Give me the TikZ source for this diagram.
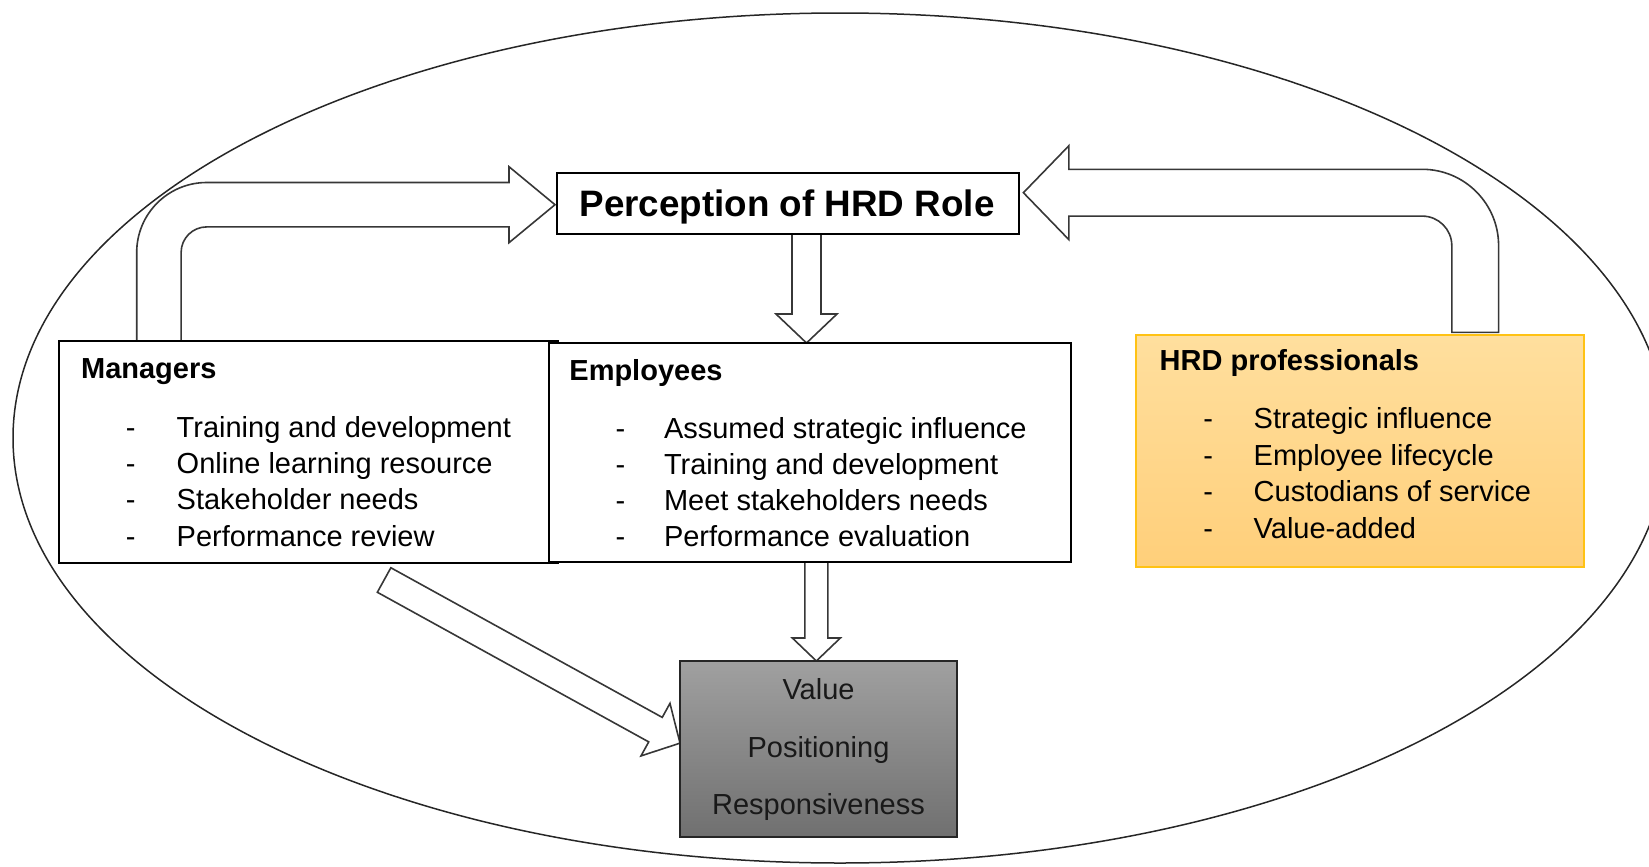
\documentclass[tikz,border=0pt]{standalone}
\usepackage{fontspec}
\setmainfont{Liberation Sans}
\usetikzlibrary{calc}

\definecolor{hrdtop}{RGB}{255,223,158}
\definecolor{hrdbot}{RGB}{255,207,122}
\definecolor{hrdline}{RGB}{255,194,20}
\definecolor{valtop}{RGB}{160,160,160}
\definecolor{valbot}{RGB}{112,112,112}
\definecolor{arrowline}{RGB}{55,55,55}

\tikzset{
  box/.style={draw=black, line width=1pt, inner sep=0pt, outer sep=0pt, fill=white},
  blockarrow/.style={draw=arrowline, line width=0.8pt, fill=white, line join=miter},
  itemtxt/.style={anchor=base west, inner sep=0pt, font=\fontsize{14.5}{17}\selectfont},
  dashtxt/.style={anchor=base, inner sep=0pt, font=\fontsize{14.5}{17}\selectfont},
  headtxt/.style={anchor=base west, inner sep=0pt, font=\bfseries\fontsize{14.5}{17}\selectfont},
  valtxt/.style={anchor=base, inner sep=0pt, font=\fontsize{14.5}{17}\selectfont, text=black!90},
}

% straight block arrow: from, to, shaft half width, head half width, head length
\newcommand\straightblockarrow[5]{%
  \path[blockarrow] let \p1=(#1), \p2=(#2),
      \n1={atan2(\y2-\y1,\x2-\x1)},
      \p3=($(\p2)+(\n1+180:#5)$) in
    ($(\p1)+(\n1+90:#3)$) -- ($(\p3)+(\n1+90:#3)$) -- ($(\p3)+(\n1+90:#4)$) -- (\p2)
    -- ($(\p3)+(\n1-90:#4)$) -- ($(\p3)+(\n1-90:#3)$) -- ($(\p1)+(\n1-90:#3)$) -- cycle;}

\begin{document}
\begin{tikzpicture}[x=0.5pt, y=-0.5pt]
\useasboundingbox (0,0) rectangle (1649,867);
\clip (0,0) rectangle (1649,867);

% outer frame
\draw[line width=0.75pt, black!85] (840,438) ellipse [x radius=413.5pt, y radius=212.5pt];

% boxes (placed first so arrows can refer to them, drawn again on top)
\path (308.5,452) node[box, draw=none, fill=none, minimum width=249.5pt, minimum height=111pt] (mgr) {};
\path (810,452.5) node[box, draw=none, fill=none, minimum width=261pt, minimum height=109.5pt] (emp) {};
\path (1360,451) node[box, draw=none, fill=none, minimum width=224pt, minimum height=116pt] (hrd) {};
\path (788,203.5) node[box, draw=none, fill=none, minimum width=231pt, minimum height=30.5pt] (perc) {};
\path (818.35,748.85) node[box, draw=none, fill=none, minimum width=138.35pt, minimum height=87.85pt] (val) {};

% bent arrow: managers -> perception
\coordinate (lbase) at ([xshift=49.95pt, yshift=-0.5pt]mgr.north west);
\coordinate (ltip) at ([xshift=-1pt, yshift=-0.6pt]perc.west);
\path[blockarrow] let \p1=(lbase), \p2=(ltip) in
  (\x1-11.1pt,\y1) -- (\x1-11.1pt,\y2-23.9pt) arc[start angle=180, end angle=90, radius=35pt]
  -- (\x2-23pt,\y2+11.1pt) -- (\x2-23pt,\y2+19pt) -- (\p2) -- (\x2-23pt,\y2-19pt)
  -- (\x2-23pt,\y2-11.1pt) -- (\x1+23.9pt,\y2-11.1pt) arc[start angle=90, end angle=180, radius=12.8pt]
  -- (\x1+11.1pt,\y1) -- cycle;

% bent arrow: HRD professionals -> perception
\coordinate (rbase) at ([xshift=169.6pt, yshift=1.35pt]hrd.north west);
\coordinate (rtip) at ([xshift=2.2pt, yshift=5.4pt]perc.east);
\path[blockarrow] let \p1=(rbase), \p2=(rtip) in
  (\x1+11.7pt,\y1) -- (\x1+11.7pt,\y2-26.5pt) arc[start angle=0, end angle=90, radius=38.2pt]
  -- (\x2+22.75pt,\y2+11.7pt) -- (\x2+22.75pt,\y2+23.5pt) -- (\p2) -- (\x2+22.75pt,\y2-23.5pt)
  -- (\x2+22.75pt,\y2-11.7pt) -- (\x1-26.5pt,\y2-11.7pt) arc[start angle=90, end angle=0, radius=14.8pt]
  -- (\x1-11.7pt,\y1) -- cycle;

% perception -> employees
\coordinate (pdown) at ([xshift=9.25pt]perc.south);
\coordinate (pdowntip) at (pdown |- emp.north);
\straightblockarrow{pdown}{pdowntip}{7.25pt}{15.25pt}{14.5pt}

% employees -> value box
\coordinate (edown) at ([xshift=-1pt]val.north |- emp.south);
\coordinate (edowntip) at ([xshift=-1pt]val.north);
\straightblockarrow{edown}{edowntip}{5.75pt}{12pt}{11.5pt}

% managers -> value box
\coordinate (mdiag) at ([xshift=37.8pt, yshift=-8.5pt]mgr.south);
\coordinate (mdiagtip) at ([yshift=2.85pt]val.west);
\straightblockarrow{mdiag}{mdiagtip}{7pt}{15pt}{14pt}

% visible boxes
\node[box, minimum width=249.5pt, minimum height=111pt] (mgrbox) at (mgr) {};
\node[box, minimum width=261pt, minimum height=109.5pt] (empbox) at (emp) {};
\node[box, draw=hrdline, line width=0.8pt, top color=hrdtop, bottom color=hrdbot,
      minimum width=224pt, minimum height=116pt] (hrdbox) at (hrd) {};
\node[box, minimum width=231pt, minimum height=30.5pt] (percbox) at (perc) {};
\node[box, draw=black!85, line width=0.9pt, top color=valtop, bottom color=valbot,
      minimum width=138.35pt, minimum height=87.85pt] (valbox) at (val) {};

% titles
\node[anchor=base, inner sep=0pt, font=\bfseries\fontsize{18.4}{22}\selectfont] (perctxt) at (787,216) {Perception of HRD Role};

% managers
\node[headtxt] (mh) at (80.7,378.3) {Managers};
\foreach \t/\y [count=\i] in {Training and development/437.3, Online learning resource/473.5,
    Stakeholder needs/509.7, Performance review/546} {
  \node[dashtxt] (md\i) at (130.8,\y) {-};
  \node[itemtxt] (mi\i) at (176.3,\y) {\t};
}

% employees
\node[headtxt] (eh) at (569,380.4) {Employees};
\foreach \t/\y [count=\i] in {Assumed strategic influence/438.8, Training and development/474.2,
    Meet stakeholders needs/510.4, Performance evaluation/546.6} {
  \node[dashtxt] (ed\i) at (620.5,\y) {-};
  \node[itemtxt] (ei\i) at (663.6,\y) {\t};
}

% HRD professionals
\node[headtxt] (hh) at (1159.3,370) {HRD professionals};
\foreach \t/\y [count=\i] in {Strategic influence/428.3, Employee lifecycle/465,
    Custodians of service/501.7, Value-added/538.3} {
  \node[dashtxt] (hd\i) at (1208.3,\y) {-};
  \node[itemtxt] (hi\i) at (1253.3,\y) {\t};
}

% outcomes
\node[valtxt] (v1) at (818.5,699.3) {Value};
\node[valtxt] (v2) at (818.5,757.3) {Positioning};
\node[valtxt] (v3) at (818.5,814) {Responsiveness};
\end{tikzpicture}
\end{document}
